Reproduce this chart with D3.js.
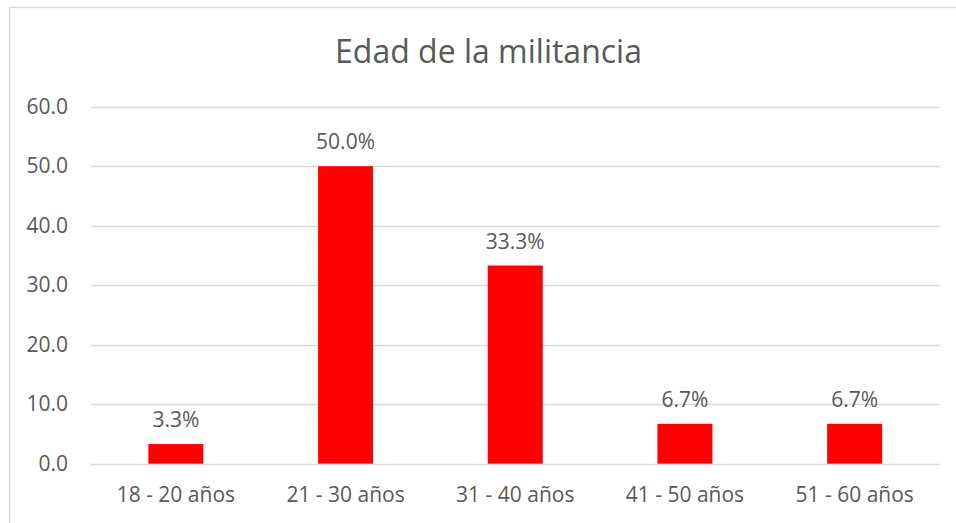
<!DOCTYPE html>
<html>
<head>
<meta charset="utf-8">
<script src="https://cdn.jsdelivr.net/npm/d3@7"></script>
<style>
  html, body { margin: 0; padding: 0; background: #fff; }
  svg { display: block; }
  text { font-family: "Open Sans", "Noto Sans", sans-serif; fill: #595959; }
</style>
</head>
<body>
<svg id="chart" width="956" height="523"></svg>
<script>
const categories = ["18 - 20 años", "21 - 30 años", "31 - 40 años", "41 - 50 años", "51 - 60 años"];
const values = [3.3, 50.0, 33.3, 6.7, 6.7];
const labels = ["3.3%", "50.0%", "33.3%", "6.7%", "6.7%"];
const yTicks = [0, 10, 20, 30, 40, 50, 60];
const title = "Edad de la militancia";

const svg = d3.select("#chart");
const FS = 21;

// outer chart border (extends past right/bottom edge of window)
svg.append("rect")
  .attr("x", 9.5).attr("y", 7.5)
  .attr("width", 959).attr("height", 530)
  .attr("fill", "none").attr("stroke", "#d9d9d9").attr("stroke-width", 1.3);

const plot = { left: 91, right: 939.5, top: 106.7, bottom: 463.7 };

const x = d3.scaleBand()
  .domain(categories)
  .range([plot.left, plot.right])
  .paddingInner(0.676)
  .paddingOuter(0.338);

const y = d3.scaleLinear()
  .domain([0, 60])
  .range([plot.bottom, plot.top]);

// gridlines
svg.append("g")
  .selectAll("line")
  .data(yTicks)
  .join("line")
  .attr("x1", plot.left).attr("x2", plot.right)
  .attr("y1", d => Math.round(y(d)) + 0.5).attr("y2", d => Math.round(y(d)) + 0.5)
  .attr("stroke", "#d9d9d9").attr("stroke-width", 1.3);

// y axis labels
const yAxis = d3.axisLeft(y).tickValues(yTicks).tickFormat(d3.format(".1f")).tickSize(0).tickPadding(23);
const gy = svg.append("g").attr("transform", `translate(${plot.left},0)`).call(yAxis);
gy.select(".domain").remove();
gy.selectAll("text").attr("font-size", FS).attr("fill", "#595959")
  .style("font-family", '"Open Sans", "Noto Sans", sans-serif');

// bars
svg.append("g")
  .selectAll("rect")
  .data(values)
  .join("rect")
  .attr("x", (d, i) => x(categories[i]))
  .attr("width", x.bandwidth())
  .attr("y", d => y(d))
  .attr("height", d => y(0) - y(d))
  .attr("fill", "#ff0000");

// data labels
svg.append("g")
  .selectAll("text")
  .data(values)
  .join("text")
  .attr("x", (d, i) => x(categories[i]) + x.bandwidth() / 2)
  .attr("y", d => y(d) - 17)
  .attr("text-anchor", "middle")
  .attr("font-size", FS)
  .text((d, i) => labels[i]);

// x axis labels
const xAxis = d3.axisBottom(x).tickSize(0).tickPadding(0);
const gx = svg.append("g").attr("transform", `translate(0,${plot.bottom})`).call(xAxis);
gx.select(".domain").remove();
gx.selectAll("text")
  .attr("dy", null)
  .attr("y", 38)
  .attr("font-size", FS).attr("fill", "#595959")
  .style("font-family", '"Open Sans", "Noto Sans", sans-serif');

// title
svg.append("text")
  .attr("x", 488.5).attr("y", 62.5)
  .attr("text-anchor", "middle")
  .attr("font-size", 32)
  .text(title);
</script>
</body>
</html>
